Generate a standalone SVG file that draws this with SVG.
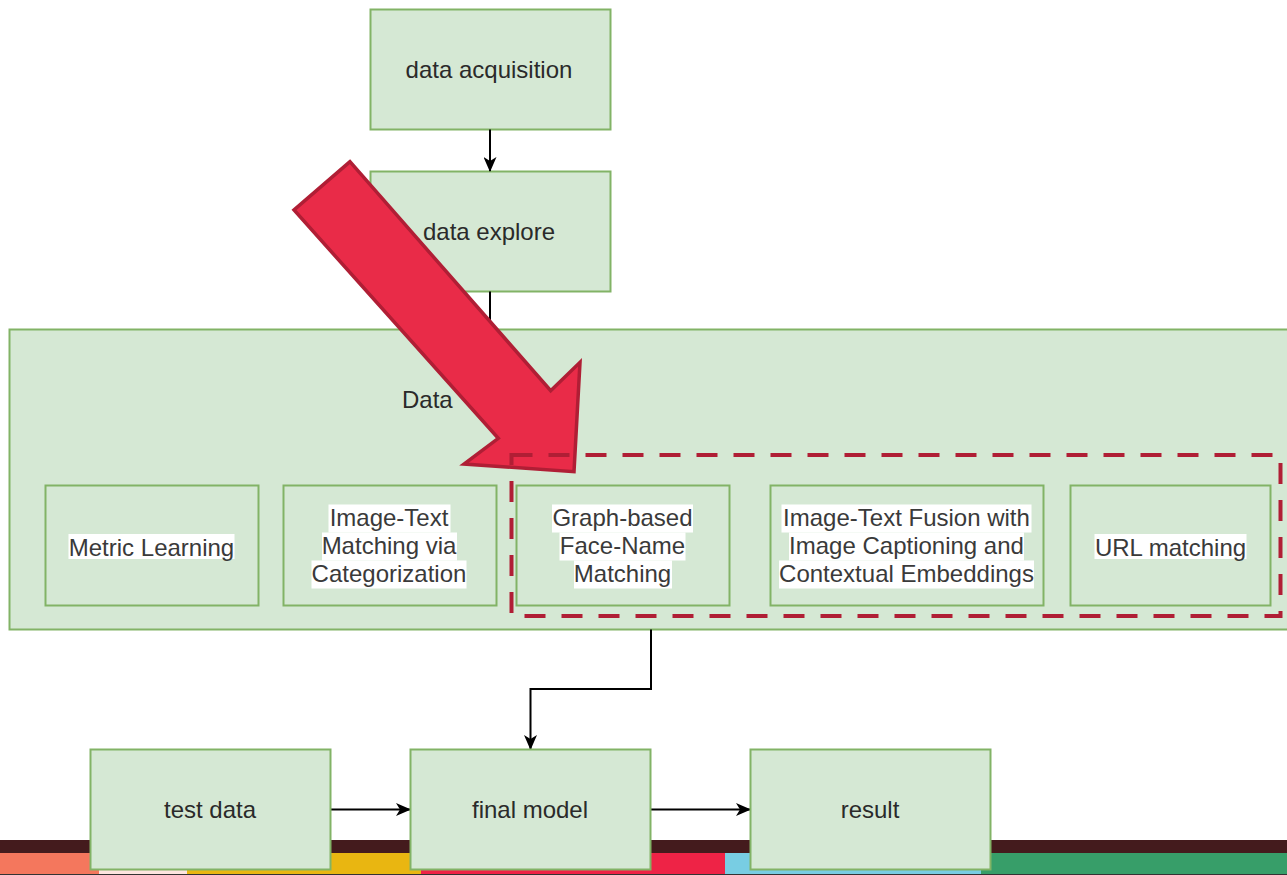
<svg xmlns="http://www.w3.org/2000/svg" width="1287" height="875" viewBox="0 0 1287 875">
  <defs>
    <marker id="ah" markerUnits="userSpaceOnUse" viewBox="0 0 15 13" refX="14" refY="6.5" markerWidth="15" markerHeight="13" orient="auto">
      <path d="M0,0 L15,6.5 L0,13 L4,6.5 Z" fill="#000"/>
    </marker>
    <style>
      .box { fill: #d5e8d4; stroke: #82b366; stroke-width: 2; }
      .t { font-family: "Liberation Sans", Arial, sans-serif; font-size: 24px; fill: #2a2a2a; text-anchor: middle; }
      .ti { font-family: "Liberation Sans", Arial, sans-serif; font-size: 24px; fill: #3a3a3a; text-anchor: middle; }
      .bg { fill: #ffffff; }
      .conn { fill: none; stroke: #000; stroke-width: 2; }
    </style>
  </defs>
  <rect x="0" y="0" width="1287" height="875" fill="#ffffff"/>

  <!-- bottom colour bar -->
  <g id="colorbar">
    <rect x="0" y="840" width="1287" height="13" fill="#441b1d"/>
    <rect x="0" y="853" width="99" height="21" fill="#f4775d"/>
    <rect x="99" y="853" width="88" height="21" fill="#fde4df"/>
    <rect x="187" y="853" width="234" height="21" fill="#e9b611"/>
    <rect x="421" y="853" width="304" height="21" fill="#ee2346"/>
    <rect x="725" y="853" width="256" height="21" fill="#78cde3"/>
    <rect x="981" y="853" width="306" height="21" fill="#379e69"/>
    <rect x="0" y="874" width="1287" height="1" fill="#333"/>
  </g>

  <g id="data-acquisition">
    <rect class="box" x="370.5" y="9.5" width="240" height="120"/>
    <text class="t" x="489" y="78">data acquisition</text>
  </g>
  <g id="data-explore">
    <rect class="box" x="370.5" y="171.5" width="240" height="120"/>
    <text class="t" x="489" y="240">data explore</text>
  </g>

  <g id="data-container">
    <rect class="box" x="9.5" y="329.5" width="1290" height="300"/>
    <text class="t" x="402" y="408" style="text-anchor:start">Data</text>
  </g>

  <g id="metric-learning">
    <rect class="box" x="45.5" y="485.5" width="213" height="120"/>
    <rect class="bg" x="68.5" y="534" width="166" height="25"/>
    <text class="ti" x="151.5" y="555.5">Metric Learning</text>
  </g>
  <g id="image-text-matching">
    <rect class="box" x="283.5" y="485.5" width="213" height="120"/>
    <rect class="bg" x="328.5" y="504.5" width="122" height="28"/>
    <rect class="bg" x="322" y="532.5" width="135" height="28"/>
    <rect class="bg" x="311.5" y="560.5" width="155" height="28"/>
    <text class="ti" x="389" y="525.5">Image-Text</text>
    <text class="ti" x="389" y="553.5">Matching via</text>
    <text class="ti" x="389" y="581.5">Categorization</text>
  </g>
  <g id="graph-based">
    <rect class="box" x="516.5" y="485.5" width="213" height="120"/>
    <rect class="bg" x="552" y="504.5" width="141" height="28"/>
    <rect class="bg" x="559.5" y="532.5" width="126" height="28"/>
    <rect class="bg" x="574" y="560.5" width="98" height="28"/>
    <text class="ti" x="622.5" y="525.5">Graph-based</text>
    <text class="ti" x="622.5" y="553.5">Face-Name</text>
    <text class="ti" x="622.5" y="581.5">Matching</text>
  </g>
  <g id="image-text-fusion">
    <rect class="box" x="770.5" y="485.5" width="273" height="120"/>
    <rect class="bg" x="781.5" y="504.5" width="250" height="28"/>
    <rect class="bg" x="789" y="532.5" width="235" height="28"/>
    <rect class="bg" x="779" y="560.5" width="255" height="28"/>
    <text class="ti" x="906.5" y="525.5">Image-Text Fusion with</text>
    <text class="ti" x="906.5" y="553.5">Image Captioning and</text>
    <text class="ti" x="906.5" y="581.5">Contextual Embeddings</text>
  </g>
  <g id="url-matching">
    <rect class="box" x="1070.5" y="485.5" width="200" height="120"/>
    <rect class="bg" x="1094.5" y="534" width="152" height="25"/>
    <text class="ti" x="1170.5" y="555.5">URL matching</text>
  </g>

  <g id="connectors">
    <line class="conn" x1="490" y1="129.5" x2="490" y2="171" marker-end="url(#ah)"/>
    <line class="conn" x1="490" y1="291.5" x2="490" y2="329.5"/>
    <polyline class="conn" points="651,629.5 651,689 530.5,689 530.5,749" marker-end="url(#ah)"/>
    <line class="conn" x1="330.5" y1="809.5" x2="410" y2="809.5" marker-end="url(#ah)"/>
    <line class="conn" x1="650.5" y1="809.5" x2="750" y2="809.5" marker-end="url(#ah)"/>
  </g>

  <g id="test-data">
    <rect class="box" x="90.5" y="749.5" width="240" height="120"/>
    <text class="t" x="210" y="818">test data</text>
  </g>
  <g id="final-model">
    <rect class="box" x="410.5" y="749.5" width="240" height="120"/>
    <text class="t" x="530" y="818">final model</text>
  </g>
  <g id="result">
    <rect class="box" x="750.5" y="749.5" width="240" height="120"/>
    <text class="t" x="870" y="818">result</text>
  </g>

  <g id="big-arrow">
    <polygon points="350,161.7 294,210 498.3,438.3 464,464 574,471.7 580,362.3 550.7,390.7" fill="#e92b48" stroke="#b01e35" stroke-width="3.5" stroke-linejoin="miter"/>
  </g>

  <g id="highlight">
    <rect x="511.5" y="455" width="769" height="161" fill="none" stroke="#b01e35" stroke-width="4" stroke-dasharray="21 16"/>
  </g>
</svg>
